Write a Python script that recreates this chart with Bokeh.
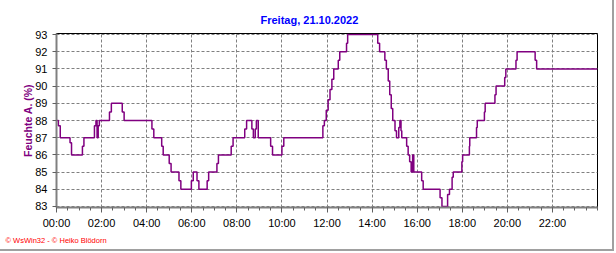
from bokeh.plotting import figure
from bokeh.models import FixedTicker, Title, Range1d
from bokeh.embed import file_html
from bokeh.resources import INLINE

title_text = "Freitag, 21.10.2022"
y_label = "Feuchte A. (%)"
footer_text = "© WsWin32 - © Heiko Blödorn"

x_tick_hours = [0, 2, 4, 6, 8, 10, 12, 14, 16, 18, 20, 22]
x_tick_labels = ["00:00", "02:00", "04:00", "06:00", "08:00", "10:00",
                 "12:00", "14:00", "16:00", "18:00", "20:00", "22:00"]
y_ticks = [83, 84, 85, 86, 87, 88, 89, 90, 91, 92, 93]

times = ["00:00", "00:05", "00:10", "00:36", "00:40", "01:09", "01:13", "01:41", "01:45",
         "01:48", "01:51", "01:54", "02:21", "02:26", "02:55", "03:00", "04:14", "04:19",
         "04:40", "04:44", "05:00", "05:05", "05:26", "05:31", "05:59", "06:04", "06:14",
         "06:19", "06:41", "06:45", "07:07", "07:11", "07:45", "07:50", "08:21", "08:26",
         "08:40", "08:44", "08:49", "08:52", "08:57", "09:30", "09:35", "10:00", "10:05",
         "11:49", "11:53", "11:58", "12:03", "12:08", "12:13", "12:18", "12:30", "12:34",
         "12:52", "12:55", "14:15", "14:20", "14:34", "14:38", "14:43", "14:47", "14:51",
         "14:55", "15:01", "15:05", "15:11", "15:14", "15:17", "15:19", "15:32", "15:36",
         "15:40", "15:44", "15:48", "15:51", "16:12", "16:16", "17:01", "17:06", "17:21",
         "17:26", "17:33", "17:36", "17:59", "18:01", "18:19", "18:20", "18:38", "18:40",
         "18:59", "19:01", "19:27", "19:30", "19:53", "19:56", "20:23", "20:26", "21:14",
         "21:18", "24:00"]
humidity = [88, 87.7, 87, 86.7, 86, 86.5, 87, 87.7, 88,
            87, 87.7, 88, 88.5, 89, 88.5, 88, 87.5, 87,
            86.5, 86, 85.5, 85, 84.5, 84, 84.5, 85, 84.5,
            84, 84.5, 85, 85.5, 86, 86.5, 87, 87.5, 88,
            87.5, 87, 87.5, 88, 87, 86.5, 86, 86.5, 87,
            87.7, 88, 88.6, 89.2, 89.8, 90.4, 91, 91.5, 92,
            92.5, 93, 92.5, 92, 91.5, 91, 90.3, 89.5, 88.7,
            88, 87.4, 87, 87.6, 88, 87.4, 87, 86.5, 86,
            85.6, 85, 86, 85, 84.5, 84, 83.5, 83, 83.7,
            84, 84.7, 85, 85.6, 86, 86.5, 87, 87.6, 88,
            88.5, 89, 89.5, 90, 90.5, 91, 91.5, 92, 91.5,
            91, 91]


def to_hours(s):
    h, m = s.split(":")
    return int(h) + int(m) / 60.0


xs = [to_hours(t) for t in times]

p = figure(width=614, height=251, output_backend="svg", toolbar_location=None,
           x_range=Range1d(0, 24), y_range=Range1d(82.94, 93.06),
           min_border_left=56, min_border_right=17, min_border_top=33, min_border_bottom=44)
p.styles = {"border-right": "2px solid #a0a0a0", "border-bottom": "2px solid #a0a0a0"}
p.background_fill_color = "white"
p.border_fill_color = "white"
p.outline_line_color = "black"
p.outline_line_width = 1

p.step(xs, humidity, mode="after", line_color="#800080", line_width=1.5)

# x axis
p.xaxis.ticker = FixedTicker(ticks=x_tick_hours, minor_ticks=[i * 0.5 for i in range(49)])
p.xaxis.major_label_overrides = {h: lab for h, lab in zip(x_tick_hours, x_tick_labels)}
p.xaxis.axis_line_color = "#808080"
p.xaxis.axis_line_width = 2
p.xaxis.major_tick_line_color = "#606060"
p.xaxis.minor_tick_line_color = "#606060"
p.xaxis.major_tick_in = 0
p.xaxis.major_tick_out = 5
p.xaxis.minor_tick_in = 0
p.xaxis.minor_tick_out = 3
p.xaxis.major_label_standoff = 4
p.xaxis.major_label_text_font = "Liberation Sans"
p.xaxis.major_label_text_font_size = "11px"
p.xaxis.major_label_text_color = "black"

# y axis
p.yaxis.ticker = FixedTicker(ticks=y_ticks, minor_ticks=[])
p.yaxis.axis_line_color = "#808080"
p.yaxis.axis_line_width = 2
p.yaxis.major_tick_line_color = "#606060"
p.yaxis.major_tick_in = 0
p.yaxis.major_tick_out = 4
p.yaxis.minor_tick_out = 0
p.yaxis.minor_tick_in = 0
p.yaxis.major_label_standoff = 5
p.yaxis.major_label_text_font = "Liberation Sans"
p.yaxis.major_label_text_font_size = "11px"
p.yaxis.major_label_text_color = "black"
p.yaxis.axis_label = y_label
p.yaxis.axis_label_text_font = "Liberation Sans"
p.yaxis.axis_label_text_font_style = "bold"
p.yaxis.axis_label_text_font_size = "10.5px"
p.yaxis.axis_label_text_color = "#800080"
p.yaxis.axis_label_standoff = -2

# grids
for g in (p.xgrid, p.ygrid):
    g.grid_line_color = "#808080"
    g.grid_line_dash = "3 2"
    g.grid_line_width = 1

# title
t = Title(text=title_text, align="left", offset=204, text_font="Liberation Sans",
          text_font_size="11px", text_font_style="bold", text_color="#0000FF", standoff=15)
p.add_layout(t, "above")

f = Title(text=footer_text, align="left", offset=-51, text_font="Liberation Sans",
          text_font_size="7.5px", text_font_style="normal", text_color="#FF0000", standoff=4)
p.add_layout(f, "below")

open("out.html", "w").write(file_html(p, INLINE))
